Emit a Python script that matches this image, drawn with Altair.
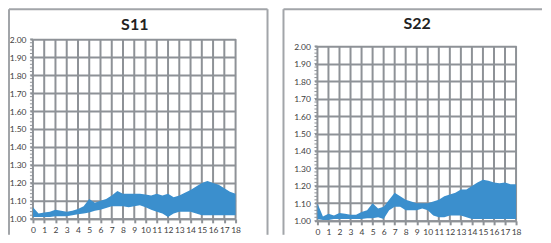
import altair as alt
import pandas as pd

# Frequency (GHz) at which the envelope was read
freq = [0, 0.5, 1, 1.5, 2, 2.5, 3, 3.5, 4, 4.5, 5, 5.5, 6, 6.5, 7, 7.5, 8, 8.5, 9,
        9.5, 10, 10.5, 11, 11.5, 12, 12.5, 13, 13.5, 14, 14.5, 15, 15.5, 16, 16.5,
        17, 17.5, 18]

# S11 VSWR envelope (upper / lower)
s11_hi = [1.065, 1.03, 1.035, 1.04, 1.05, 1.045, 1.04, 1.045, 1.055, 1.07, 1.11, 1.09,
          1.10, 1.11, 1.13, 1.155, 1.14, 1.14, 1.14, 1.14, 1.135, 1.13, 1.14, 1.13,
          1.14, 1.12, 1.13, 1.145, 1.16, 1.18, 1.20, 1.21, 1.20, 1.19, 1.17, 1.15, 1.14]
s11_lo = [1.01, 1.01, 1.01, 1.01, 1.015, 1.015, 1.015, 1.02, 1.025, 1.03, 1.035, 1.045,
          1.05, 1.06, 1.07, 1.07, 1.07, 1.065, 1.07, 1.075, 1.065, 1.05, 1.04, 1.03,
          1.01, 1.03, 1.04, 1.04, 1.04, 1.03, 1.02, 1.02, 1.02, 1.02, 1.02, 1.02, 1.02]

# S22 VSWR envelope (upper / lower)
s22_hi = [1.10, 1.025, 1.04, 1.03, 1.045, 1.04, 1.035, 1.035, 1.05, 1.06, 1.10, 1.07,
          1.08, 1.12, 1.16, 1.14, 1.12, 1.11, 1.10, 1.10, 1.10, 1.11, 1.12, 1.14,
          1.15, 1.16, 1.18, 1.18, 1.20, 1.22, 1.235, 1.23, 1.22, 1.215, 1.22, 1.21, 1.21]
s22_lo = [1.01, 1.005, 1.005, 1.01, 1.01, 1.01, 1.01, 1.01, 1.01, 1.015, 1.015, 1.02,
          1.01, 1.06, 1.08, 1.08, 1.06, 1.06, 1.06, 1.07, 1.06, 1.03, 1.02, 1.02,
          1.03, 1.03, 1.03, 1.02, 1.01, 1.01, 1.01, 1.01, 1.01, 1.01, 1.01, 1.01, 1.01]

x_ticks = [0, 1, 2, 3, 4, 5, 6, 7, 8, 9, 10, 11, 12, 13, 14, 15, 16, 17, 18]
y_ticks = [1.0, 1.1, 1.2, 1.3, 1.4, 1.5, 1.6, 1.7, 1.8, 1.9, 2.0]
minor_ticks = [round(1.0 + 0.02 * i, 2) for i in range(51)]

GRID = "#8e9297"
FRAME = "#a2a5a9"
BLUE = "#3b8fcd"
FONT = "Lato"
LABEL = "#404040"

one = pd.DataFrame({"a": [0]})


def edge(x1, x2, y1, y2):
    return alt.Chart(one).mark_rule(color=FRAME, strokeWidth=2).encode(
        x=alt.value(x1), x2=alt.value(x2), y=alt.value(y1), y2=alt.value(y2))


def panel(title, hi, lo, w, h, ytop, edges, title_x, title_y):
    df = pd.DataFrame({"f": freq, "hi": hi, "lo": lo})
    xs = alt.Scale(domain=[0, 18], nice=False, zero=False)
    ys = alt.Scale(domain=[1, ytop], nice=False, zero=False)

    x_axis = alt.Axis(
        values=x_ticks, format="d", title=None, labelAngle=0,
        labelFont=FONT, labelFontSize=8.5, labelColor=LABEL,
        labelOverlap=False, labelFlush=False, labelPadding=3,
        grid=False, domainColor=GRID, domainWidth=2,
        tickColor=GRID, tickWidth=2, tickSize=4)
    y_axis = alt.Axis(
        values=y_ticks, format=".2f", title=None,
        labelFont=FONT, labelFontSize=8.5, labelColor=LABEL,
        labelOverlap=False, labelFlush=False, labelPadding=4,
        grid=True, gridColor=GRID, gridWidth=2, domain=False,
        tickColor=GRID, tickWidth=2, tickSize=3)

    vdf = pd.DataFrame({"g": x_ticks, "b": [1.0] * len(x_ticks), "t": [2.0] * len(x_ticks)})
    vgrid = alt.Chart(vdf).mark_rule(color=GRID, strokeWidth=2).encode(
        x=alt.X("g:Q", scale=xs, axis=x_axis),
        y=alt.Y("b:Q", scale=ys, axis=y_axis),
        y2="t:Q",
    )

    area = alt.Chart(df).mark_area(color=BLUE, opacity=1).encode(
        x=alt.X("f:Q", scale=xs, axis=x_axis),
        y=alt.Y("hi:Q", scale=ys, axis=y_axis),
        y2="lo:Q",
    )

    mdf = pd.DataFrame({"m": minor_ticks})
    minor = alt.Chart(mdf).mark_rule(color=GRID, strokeWidth=1).encode(
        y=alt.Y("m:Q", scale=ys, axis=y_axis),
        x=alt.value(-3), x2=alt.value(0),
    )

    ttl = alt.Chart(one).mark_text(
        text=title, font=FONT, fontSize=16, fontWeight="bold",
        color="#222222", align="center", baseline="middle",
    ).encode(x=alt.value(title_x), y=alt.value(title_y))

    layers = [edge(*e) for e in edges] + [vgrid, area, minor, ttl]
    return alt.layer(*layers).properties(width=w, height=h)


left = panel("S11", s11_hi, s11_lo, 203, 180, 2.0,
             [(-24, -24, -30, 196), (-24, 235, -30, -30), (235, 235, -30, 196)],
             102, -14)
right = panel("S22", s22_hi, s22_lo, 199, 182, 1 + 182 / 175,
              [(-34, -34, -30, 196), (-34, 225, -30, -30)],
              100, -15)

chart = alt.hconcat(left, right, spacing=14).properties(
    padding=0, background="white"
).configure_view(stroke=None)

chart.save("out.html", embed_options={"renderer": "svg", "actions": False})
